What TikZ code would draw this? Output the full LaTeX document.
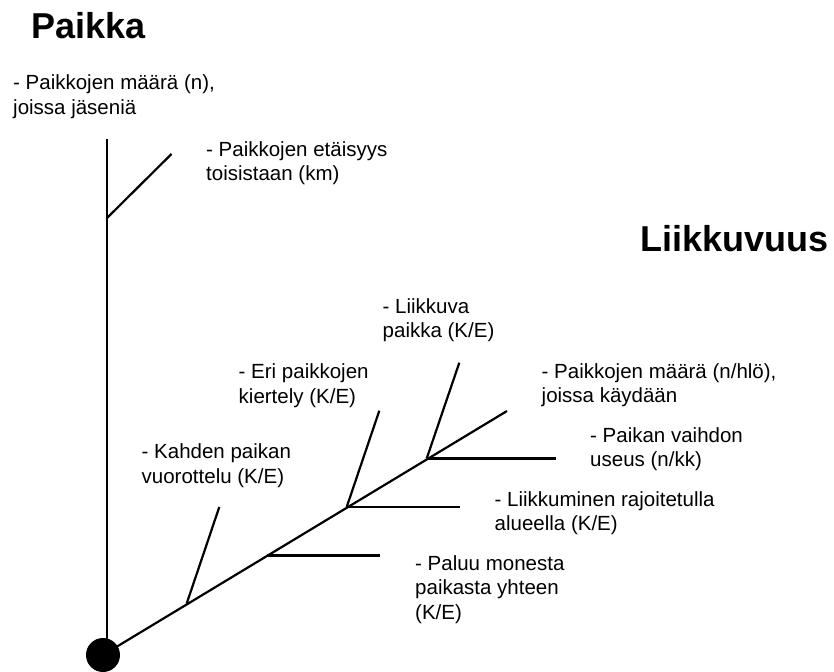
\documentclass[tikz,border=0pt]{standalone}
\usepackage{fontspec}
\setmainfont{Liberation Sans}
\begin{document}
\begin{tikzpicture}[x=1pt,y=-1pt,
  stem/.style={line width=2.2pt,line cap=butt},
  % multi-line labels are placed by the baseline of their last line
  label/.style={anchor=base west,inner sep=0pt,align=left,
    font=\fontsize{20.5}{24.5}\selectfont},
  heading/.style={anchor=base west,inner sep=0pt,
    font=\fontsize{36}{40}\selectfont\bfseries}]
\useasboundingbox (0,0) rectangle (834,671);

% root dot
\node[circle,fill=black,minimum size=34pt,inner sep=0pt] (root) at (103,655) {};

% vertical axis (place)
\coordinate (vtop) at (107,139);
\coordinate (vbot) at (107,655);
\coordinate (vjoin) at (107,218);
\coordinate (vtip) at (171.5,154);
\draw[stem] (vtop) -- (vbot);
\draw[stem] (vjoin) -- (vtip);

% diagonal axis (mobility)
\coordinate (dend) at (507,411);
\coordinate (j1) at (186.7,603.5);
\coordinate (j2) at (266.7,555.5);
\coordinate (j3) at (346.7,507);
\coordinate (j4) at (426.7,458.5);
\coordinate (t1) at (219.3,507);
\coordinate (h2) at (380,555.5);
\coordinate (t3) at (379.3,410.7);
\coordinate (h3) at (460,507);
\coordinate (t4) at (459.3,362.7);
\coordinate (h4) at (555.7,458.5);
\draw[stem] (root.center) -- (dend);
\draw[stem] (j1) -- (t1);
\draw[stem] (j2) -- (h2);
\draw[stem] (j3) -- (t3);
\draw[stem] (j3) -- (h3);
\draw[stem] (j4) -- (t4);
\draw[stem] (j4) -- (h4);

% headings
\node[heading] (paikka) at (31.5,39) {Paikka};
\node[heading] (liikkuvuus) at (640,251) {Liikkuvuus};

% place attributes
\node[label] (lmaara) at (13,114.5) {- Paikkojen määrä (n),\\joissa jäseniä};
\node[label] (letaisyys) at (206,180.5) {- Paikkojen etäisyys\\toisistaan (km)};

% mobility attributes
\node[label] (lliikkuva) at (382.5,337.5) {- Liikkuva\\paikka (K/E)};
\node[label] (lkiertely) at (238.5,403) {- Eri paikkojen\\kiertely (K/E)};
\node[label] (lvuorottelu) at (141.5,483) {- Kahden paikan\\vuorottelu (K/E)};
\node[label] (lkaynnit) at (541.5,402.5) {- Paikkojen määrä (n/hlö),\\joissa käydään};
\node[label] (lvaihto) at (590,466.5) {- Paikan vaihdon\\useus (n/kk)};
\node[label] (lrajattu) at (494.5,530.5) {- Liikkuminen rajoitetulla\\alueella (K/E)};
\node[label] (lpaluu) at (415,619) {- Paluu monesta\\paikasta yhteen\\(K/E)};
\end{tikzpicture}
\end{document}
